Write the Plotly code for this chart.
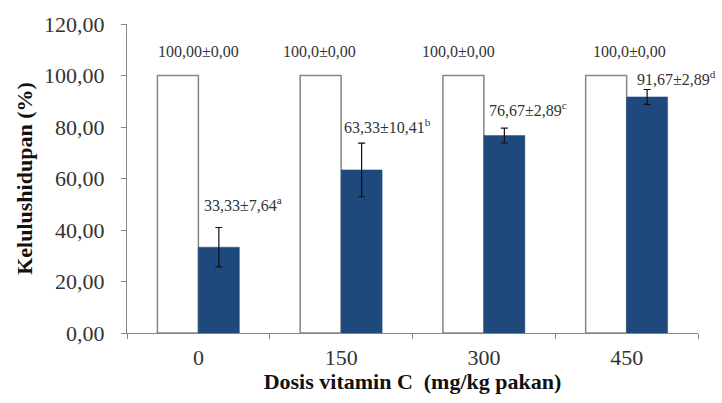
import plotly.graph_objects as go

# Survival (%) by vitamin C dose
doses = ["0", "150", "300", "450"]
control_vals = [100.0, 100.0, 100.0, 100.0]
treat_vals = [33.33, 63.33, 76.67, 91.67]
treat_err = [7.64, 10.41, 2.89, 2.89]

control_labels = ["100,00±0,00", "100,0±0,00", "100,0±0,00", "100,0±0,00"]
treat_labels = ["33,33±7,64<sup>a</sup>", "63,33±10,41<sup>b</sup>",
                "76,67±2,89<sup>c</sup>", "91,67±2,89<sup>d</sup>"]

y_ticks = [0, 20, 40, 60, 80, 100, 120]
y_ticktext = ["0,00", "20,00", "40,00", "60,00", "80,00", "100,00", "120,00"]

SERIF = "Liberation Serif"
BLUE = "#1F497D"
GRAY = "#868686"
TEXT = "#333333"

fig = go.Figure()
fig.add_trace(go.Bar(
    x=doses, y=control_vals,
    marker=dict(color="white", line=dict(color=GRAY, width=1.5)),
    showlegend=False,
))
fig.add_trace(go.Bar(
    x=doses, y=treat_vals,
    marker=dict(color=BLUE, line=dict(color=BLUE, width=0.5)),
    error_y=dict(type="data", array=treat_err, visible=True,
                 color="#111111", thickness=1.2, width=3.5),
    showlegend=False,
))

# value labels above the bars (x given as category index)
ctrl_shift = [0, -22, -25, 3]
for i, (v, t, s) in enumerate(zip(control_vals, control_labels, ctrl_shift)):
    fig.add_annotation(x=i, y=v, text=t, showarrow=False, xref="x", yref="y",
                       xanchor="center", yanchor="bottom", xshift=s, yshift=14,
                       font=dict(family=SERIF, size=16, color=TEXT))

treat_xshift = [4, 1, 3, 8]
treat_yshift = [12, 5, 7, 0]
for i, (v, e, t, xs, ys) in enumerate(zip(treat_vals, treat_err, treat_labels,
                                          treat_xshift, treat_yshift)):
    fig.add_annotation(x=i, y=v + e, text=t, showarrow=False, xref="x", yref="y",
                       xanchor="left", yanchor="bottom", xshift=xs, yshift=ys,
                       font=dict(family=SERIF, size=16, color=TEXT))

fig.update_layout(
    width=722, height=403,
    margin=dict(l=127, r=24, t=22, b=70),
    paper_bgcolor="white", plot_bgcolor="white",
    barmode="group", bargap=0.426, bargroupgap=0,
    font=dict(family=SERIF, color=TEXT),
)
fig.update_xaxes(
    type="category", range=[-0.5, 3.5], showgrid=False, showline=True,
    linecolor=GRAY, linewidth=1.2,
    ticks="outside", tickson="boundaries", ticklen=5, tickcolor=GRAY,
    ticklabelstandoff=4,
    tickfont=dict(family=SERIF, size=22, color=TEXT),
    title=dict(text="<b>Dosis vitamin C  (mg/kg pakan)</b>",
               font=dict(family=SERIF, size=22, color="#111111"), standoff=1),
)
fig.update_yaxes(
    range=[0, 120], tickvals=y_ticks, ticktext=y_ticktext,
    showgrid=False, zeroline=False, showline=True, linecolor=GRAY, linewidth=1.2,
    ticks="outside", ticklen=5, tickcolor=GRAY, ticklabelstandoff=12,
    tickfont=dict(family=SERIF, size=22, color=TEXT),
    title=dict(text="<b>Kelulushidupan (%)</b>",
               font=dict(family=SERIF, size=22, color="#111111"), standoff=5),
)

fig.write_html("out.html")
